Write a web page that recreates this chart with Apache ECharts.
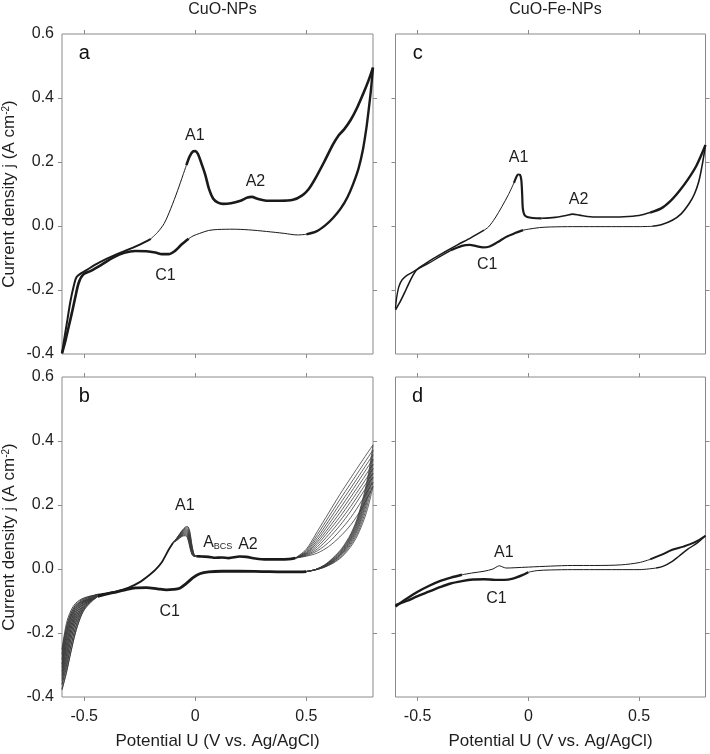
<!DOCTYPE html>
<html>
<head>
<meta charset="utf-8">
<script src="https://cdn.jsdelivr.net/npm/echarts@6/dist/echarts.min.js"></script>
<style>html,body{margin:0;padding:0;background:#fff;}#c{width:710px;height:754px;}</style>
</head>
<body>
<div id="c"></div>
<script>
// ---------- axes ----------
const xMin = -0.6, xMax = 0.8, yMin = -0.4, yMax = 0.6;
const xTickValues = [-0.5, 0, 0.5];
const yTickValues = [-0.2, 0, 0.2, 0.4];
const yLabelValues = [-0.4, -0.2, 0, 0.2, 0.4, 0.6];
const columnTitles = ['CuO-NPs', 'CuO-Fe-NPs'];
const panelLetters = ['a', 'c', 'b', 'd'];

// ---------- panel a (CuO-NPs, top) ----------
const aAnLow = [[-0.600,-0.398],[-0.588,-0.345],[-0.575,-0.290],[-0.562,-0.235],[-0.548,-0.190],[-0.535,-0.160],[-0.515,-0.148],[-0.490,-0.138],[-0.450,-0.121],[-0.400,-0.103],[-0.350,-0.087],[-0.300,-0.073],[-0.250,-0.058],[-0.200,-0.040]];
const aAnRise = [[-0.200,-0.040],[-0.170,-0.020],[-0.140,0.008],[-0.110,0.055],[-0.080,0.110],[-0.055,0.160],[-0.040,0.190]];
const aAnHigh = [[-0.040,0.190],[-0.025,0.218],[-0.010,0.233],[0.000,0.234],[0.012,0.225],[0.028,0.195],[0.045,0.160],[0.062,0.115],[0.080,0.086],[0.100,0.074],[0.125,0.069],[0.160,0.071],[0.200,0.078],[0.235,0.089],[0.255,0.091],[0.280,0.085],[0.320,0.079],[0.380,0.079],[0.440,0.082],[0.480,0.095],[0.510,0.115],[0.540,0.148],[0.580,0.200],[0.620,0.255],[0.645,0.283],[0.670,0.302],[0.700,0.332],[0.730,0.372],[0.760,0.420],[0.780,0.455],[0.800,0.495]];
const aCathHigh = [[0.800,0.495],[0.790,0.420],[0.780,0.360],[0.770,0.305],[0.755,0.240],[0.735,0.180],[0.710,0.130],[0.685,0.090],[0.655,0.055],[0.620,0.025],[0.585,0.002],[0.545,-0.017],[0.500,-0.026]];
const aCathMid = [[0.500,-0.026],[0.460,-0.028],[0.400,-0.023],[0.320,-0.017],[0.240,-0.012],[0.170,-0.010],[0.100,-0.011],[0.060,-0.014],[0.020,-0.023],[-0.010,-0.031],[-0.030,-0.040]];
const aCathLow = [[-0.030,-0.040],[-0.062,-0.058],[-0.090,-0.077],[-0.120,-0.088],[-0.150,-0.088],[-0.180,-0.083],[-0.220,-0.079],[-0.270,-0.078],[-0.320,-0.084],[-0.370,-0.099],[-0.420,-0.120],[-0.470,-0.140],[-0.505,-0.152],[-0.525,-0.178],[-0.540,-0.222],[-0.555,-0.270],[-0.570,-0.315],[-0.585,-0.360],[-0.600,-0.398]];
const aLabels = [[-0.002,0.281,'A1'],[0.271,0.138,'A2'],[-0.134,-0.156,'C1']];

// ---------- panel c (CuO-Fe-NPs, top) ----------
const cAnLow = [[-0.600,-0.262],[-0.580,-0.238],[-0.560,-0.210],[-0.540,-0.180],[-0.520,-0.153],[-0.505,-0.137],[-0.470,-0.120],[-0.430,-0.102],[-0.380,-0.082],[-0.320,-0.059],[-0.260,-0.037],[-0.200,-0.013]];
const cAnRise = [[-0.200,-0.013],[-0.180,-0.003],[-0.150,0.025],[-0.120,0.060],[-0.090,0.098],[-0.065,0.135]];
const cPeak = [[-0.065,0.135],[-0.055,0.152],[-0.047,0.161],[-0.038,0.160],[-0.032,0.145],[-0.028,0.100],[-0.025,0.055],[-0.018,0.035],[-0.005,0.028],[0.020,0.025],[0.060,0.024]];
const cAnFlat = [[0.060,0.024],[0.120,0.027],[0.170,0.033],[0.200,0.037],[0.230,0.034],[0.280,0.029],[0.350,0.028],[0.430,0.029],[0.500,0.033],[0.550,0.042]];
const cAnEnd = [[0.550,0.042],[0.600,0.055],[0.640,0.077],[0.680,0.108],[0.720,0.145],[0.760,0.190],[0.800,0.253]];
const cCathEnd = [[0.800,0.253],[0.785,0.190],[0.770,0.140],[0.750,0.100],[0.727,0.071],[0.690,0.038],[0.650,0.018],[0.600,0.004],[0.560,-0.001]];
const cCathFlat = [[0.560,-0.001],[0.500,-0.002],[0.400,-0.002],[0.300,-0.002],[0.200,-0.002],[0.100,-0.003],[0.050,-0.005],[0.000,-0.010],[-0.024,-0.013]];
const cCathC1 = [[-0.024,-0.013],[-0.060,-0.022],[-0.100,-0.034],[-0.140,-0.051],[-0.175,-0.064],[-0.205,-0.067],[-0.235,-0.063],[-0.265,-0.059],[-0.300,-0.062],[-0.350,-0.076]];
const cCathLow = [[-0.350,-0.076],[-0.400,-0.096],[-0.450,-0.116],[-0.505,-0.137],[-0.530,-0.147],[-0.550,-0.155],[-0.570,-0.168],[-0.585,-0.190],[-0.595,-0.225],[-0.600,-0.258]];
const cLabels = [[-0.044,0.215,'A1'],[0.227,0.084,'A2'],[-0.186,-0.122,'C1']];

// ---------- panel b (CuO-NPs, bottom, many cycles) ----------
const bLeftAnV = [-0.60,-0.58,-0.56,-0.54,-0.52,-0.50,-0.47,-0.44];
const bLeftAnJ = [
  [-0.250,-0.170,-0.130,-0.108,-0.097,-0.090,-0.084,-0.080],
  [-0.265,-0.185,-0.140,-0.113,-0.100,-0.092,-0.085,-0.080],
  [-0.280,-0.200,-0.150,-0.120,-0.104,-0.094,-0.086,-0.080],
  [-0.295,-0.215,-0.162,-0.127,-0.108,-0.097,-0.087,-0.080],
  [-0.305,-0.232,-0.175,-0.135,-0.113,-0.100,-0.088,-0.080],
  [-0.318,-0.248,-0.188,-0.144,-0.119,-0.104,-0.090,-0.080],
  [-0.330,-0.265,-0.203,-0.155,-0.126,-0.108,-0.092,-0.080],
  [-0.343,-0.282,-0.220,-0.168,-0.134,-0.113,-0.094,-0.080],
  [-0.358,-0.300,-0.240,-0.184,-0.144,-0.119,-0.097,-0.080],
  [-0.375,-0.320,-0.260,-0.200,-0.155,-0.125,-0.100,-0.080]
];
const bAnMid = [[-0.44,-0.080],[-0.40,-0.076],[-0.35,-0.069],[-0.30,-0.058],[-0.25,-0.041],[-0.20,-0.015],[-0.18,-0.003],[-0.15,0.022],[-0.12,0.060],[-0.10,0.082]];
const bPeakV = [-0.100,-0.080,-0.060,-0.045,-0.035,-0.025,-0.015,-0.005,0.005];
const bPeakJ = [
  [0.082,0.100,0.120,0.131,0.133,0.118,0.075,0.045,0.040],
  [0.082,0.099,0.118,0.128,0.129,0.112,0.070,0.044,0.040],
  [0.082,0.098,0.116,0.125,0.125,0.106,0.066,0.043,0.040],
  [0.082,0.097,0.114,0.122,0.121,0.100,0.062,0.042,0.040],
  [0.082,0.096,0.112,0.119,0.117,0.094,0.058,0.042,0.040],
  [0.082,0.095,0.110,0.116,0.113,0.089,0.055,0.041,0.040],
  [0.082,0.094,0.108,0.113,0.109,0.084,0.052,0.041,0.040],
  [0.082,0.093,0.106,0.110,0.105,0.079,0.049,0.040,0.040],
  [0.082,0.092,0.104,0.107,0.101,0.074,0.047,0.040,0.040],
  [0.082,0.091,0.102,0.104,0.097,0.069,0.045,0.040,0.040]
];
const bAnFlat = [[0.005,0.040],[0.030,0.039],[0.060,0.038],[0.090,0.035],[0.120,0.036],[0.150,0.034],[0.200,0.039],[0.230,0.038],[0.270,0.033],[0.320,0.030],[0.380,0.030],[0.420,0.031],[0.450,0.034]];
const bRiseV = [0.45,0.50,0.55,0.60,0.65,0.70,0.75,0.80];
const bRiseJ = [
  [0.034,0.062,0.118,0.175,0.232,0.285,0.337,0.388],
  [0.034,0.058,0.108,0.162,0.216,0.268,0.320,0.372],
  [0.034,0.055,0.099,0.150,0.202,0.253,0.305,0.357],
  [0.034,0.052,0.091,0.139,0.188,0.239,0.291,0.343],
  [0.034,0.050,0.084,0.128,0.175,0.225,0.276,0.328],
  [0.034,0.048,0.077,0.118,0.162,0.211,0.262,0.314],
  [0.034,0.046,0.070,0.107,0.149,0.196,0.248,0.300],
  [0.034,0.044,0.063,0.096,0.135,0.181,0.234,0.287],
  [0.034,0.042,0.057,0.083,0.119,0.161,0.214,0.272],
  [0.034,0.040,0.050,0.070,0.100,0.138,0.190,0.258]
];
const bFallV = [0.80,0.78,0.76,0.73,0.70,0.66,0.62,0.58,0.54,0.50];
const bFallJ = [
  [0.388,0.300,0.235,0.160,0.110,0.065,0.035,0.012,-0.002,-0.008],
  [0.372,0.290,0.227,0.155,0.106,0.062,0.033,0.011,-0.002,-0.008],
  [0.357,0.280,0.219,0.150,0.102,0.059,0.031,0.010,-0.002,-0.008],
  [0.343,0.270,0.211,0.144,0.098,0.056,0.029,0.010,-0.002,-0.008],
  [0.328,0.260,0.203,0.138,0.094,0.053,0.027,0.009,-0.002,-0.008],
  [0.314,0.250,0.195,0.132,0.090,0.050,0.025,0.008,-0.002,-0.008],
  [0.300,0.240,0.186,0.126,0.086,0.048,0.024,0.007,-0.002,-0.008],
  [0.287,0.229,0.177,0.120,0.081,0.045,0.022,0.006,-0.003,-0.008],
  [0.272,0.215,0.166,0.112,0.076,0.041,0.020,0.006,-0.003,-0.008],
  [0.258,0.200,0.155,0.105,0.070,0.038,0.018,0.005,-0.003,-0.008]
];
const bCathMid = [[0.50,-0.008],[0.45,-0.009],[0.40,-0.009],[0.30,-0.008],[0.20,-0.007],[0.12,-0.007],[0.06,-0.009],[0.02,-0.015],[-0.01,-0.027],[-0.04,-0.045],[-0.07,-0.060],[-0.10,-0.064],[-0.13,-0.065],[-0.17,-0.062],[-0.22,-0.058],[-0.27,-0.059],[-0.32,-0.066],[-0.37,-0.074],[-0.41,-0.080],[-0.44,-0.086]];
const bLeftCatV = [-0.44,-0.47,-0.50,-0.52,-0.54,-0.56,-0.58,-0.60];
const bLeftCatJ = [
  [-0.086,-0.092,-0.098,-0.104,-0.115,-0.138,-0.180,-0.255],
  [-0.086,-0.093,-0.100,-0.107,-0.120,-0.146,-0.193,-0.270],
  [-0.086,-0.094,-0.102,-0.111,-0.126,-0.155,-0.207,-0.285],
  [-0.086,-0.095,-0.104,-0.115,-0.133,-0.165,-0.222,-0.298],
  [-0.086,-0.096,-0.107,-0.120,-0.141,-0.177,-0.238,-0.310],
  [-0.086,-0.097,-0.110,-0.126,-0.150,-0.190,-0.255,-0.323],
  [-0.086,-0.098,-0.113,-0.132,-0.160,-0.205,-0.272,-0.336],
  [-0.086,-0.100,-0.117,-0.139,-0.172,-0.222,-0.290,-0.349],
  [-0.086,-0.102,-0.122,-0.148,-0.186,-0.240,-0.308,-0.362],
  [-0.086,-0.104,-0.128,-0.158,-0.200,-0.258,-0.325,-0.378]
];
const bLabels = [[-0.047,0.198,'A1'],[0.101,0.082,'ABCS'],[0.237,0.076,'A2'],[-0.115,-0.132,'C1']];

// ---------- panel d (CuO-Fe-NPs, bottom) ----------
const dAnLow = [[-0.600,-0.117],[-0.550,-0.093],[-0.500,-0.071],[-0.450,-0.053],[-0.400,-0.038],[-0.350,-0.027],[-0.300,-0.018]];
const dAnMid = [[-0.300,-0.018],[-0.250,-0.012],[-0.200,-0.007],[-0.160,0.000],[-0.140,0.008],[-0.130,0.010],[-0.115,0.006],[-0.100,0.003],[-0.060,0.004],[0.000,0.006],[0.100,0.009],[0.200,0.011],[0.300,0.011],[0.420,0.013],[0.500,0.020],[0.550,0.030]];
const dAnEnd = [[0.550,0.030],[0.600,0.044],[0.650,0.060],[0.700,0.070],[0.750,0.083],[0.800,0.104]];
const dCathEnd = [[0.800,0.104],[0.760,0.080],[0.720,0.062],[0.680,0.040],[0.650,0.024],[0.610,0.009],[0.577,0.003]];
const dCathFlat = [[0.577,0.003],[0.500,-0.002],[0.400,-0.002],[0.300,-0.002],[0.200,-0.002],[0.100,-0.003],[0.040,-0.005],[0.000,-0.010]];
const dCathLow = [[0.000,-0.010],[-0.030,-0.020],[-0.070,-0.030],[-0.110,-0.034],[-0.150,-0.034],[-0.200,-0.032],[-0.250,-0.033],[-0.300,-0.038],[-0.355,-0.046],[-0.400,-0.057],[-0.450,-0.071],[-0.500,-0.085],[-0.550,-0.100],[-0.600,-0.113]];
const dLabels = [[-0.111,0.052,'A1'],[-0.144,-0.091,'C1']];

const letterPos = [-0.50, 0.54];

// ---------- build ----------
const FONT = "'Liberation Sans', Arial, sans-serif";
const FRAME = '#8a8a8a';
const INK = '#1a1a1a';
const TXT = '#1e1e1e';
const grids = [
  {left: 62, top: 34, width: 311, height: 320},
  {left: 395.5, top: 34, width: 310, height: 320},
  {left: 62, top: 377, width: 311, height: 320},
  {left: 395.5, top: 377, width: 310, height: 320}
].map(g => Object.assign(g, {show: true, borderColor: FRAME, borderWidth: 1, backgroundColor: 'transparent'}));

const xAxes = [], yAxes = [];
grids.forEach((g, i) => {
  const bottomRow = i >= 2, leftCol = (i % 2) === 0;
  ['bottom', 'top'].forEach(pos => {
    xAxes.push({
      type: 'value', gridIndex: i, position: pos, min: xMin, max: xMax,
      axisLine: {show: false, onZero: false}, splitLine: {show: false},
      axisTick: {show: true, inside: false, length: 4, customValues: xTickValues, lineStyle: {color: FRAME}},
      axisLabel: {show: bottomRow && pos === 'bottom', customValues: xTickValues, margin: 12,
        fontSize: 16, fontFamily: FONT, color: TXT, formatter: v => (v === 0 ? '0' : String(v))},
      name: (bottomRow && pos === 'bottom') ? 'Potential U (V vs. Ag/AgCl)' : '',
      nameLocation: 'middle', nameGap: 36,
      nameTextStyle: {fontSize: 17, fontFamily: FONT, color: TXT}
    });
  });
  ['left', 'right'].forEach(pos => {
    yAxes.push({
      type: 'value', gridIndex: i, position: pos, min: yMin, max: yMax, interval: 0.2,
      axisLine: {show: false, onZero: false}, splitLine: {show: false},
      axisTick: {show: true, inside: false, length: 4, customValues: yTickValues, lineStyle: {color: FRAME}},
      axisLabel: {show: leftCol && pos === 'left', customValues: yLabelValues, margin: 8,
        fontSize: 16, fontFamily: FONT, color: TXT, formatter: v => v.toFixed(1)},
      name: (leftCol && pos === 'left') ? '{n|Current density j (A cm}{s|-2}{n|)}' : '',
      nameLocation: 'middle', nameGap: 44,
      nameTextStyle: {fontFamily: FONT, color: TXT, rich: {
        n: {fontSize: 17, fontFamily: FONT, color: TXT},
        s: {fontSize: 10, fontFamily: FONT, color: TXT, verticalAlign: 'top'}
      }}
    });
  });
});

const series = [];
function seg(gi, data, width, color) {
  series.push({type: 'line', xAxisIndex: gi * 2, yAxisIndex: gi * 2, data: data,
    showSymbol: false, symbol: 'none', smooth: 0.3, silent: true,
    lineStyle: {width: width, color: color || INK}, z: 3});
}
// panel a (grid 0)
seg(0, aAnLow, 2); seg(0, aAnRise, 1); seg(0, aAnHigh, 2.6);
seg(0, aCathHigh, 2.4); seg(0, aCathMid, 1); seg(0, aCathLow, 2.6);
// panel c (grid 1)
seg(1, cAnLow, 1.6); seg(1, cAnRise, 1); seg(1, cPeak, 2.2); seg(1, cAnFlat, 1.6);
seg(1, cAnEnd, 2.4); seg(1, cCathEnd, 1.6); seg(1, cCathFlat, 1); seg(1, cCathC1, 2.2); seg(1, cCathLow, 1.4);
// panel b (grid 2)
seg(2, bAnMid, 1.8); seg(2, bAnFlat, 2.6); seg(2, bCathMid, 2.8);
for (let i = 0; i < bRiseJ.length; i++) {
  const col = '#3a3a3a';
  seg(2, bLeftAnV.map((v, k) => [v, bLeftAnJ[i][k]]), 0.9, col);
  seg(2, bPeakV.map((v, k) => [v, bPeakJ[i][k]]), 0.9, col);
  seg(2, bRiseV.map((v, k) => [v, bRiseJ[i][k]]), 0.8, col);
  seg(2, bFallV.map((v, k) => [v, bFallJ[i][k]]), 0.8, col);
  seg(2, bLeftCatV.map((v, k) => [v, bLeftCatJ[i][k]]), 0.9, col);
}
// panel d (grid 3)
seg(3, dAnLow, 2.4); seg(3, dAnMid, 1); seg(3, dAnEnd, 2);
seg(3, dCathEnd, 1.4); seg(3, dCathFlat, 1); seg(3, dCathLow, 2.4);

// annotations (peak labels and panel letters), placed in data coordinates
const labelSets = [aLabels, cLabels, bLabels, dLabels];
labelSets.forEach((set, gi) => {
  const data = set.map(p => ({value: [p[0], p[1]], name: p[2]}));
  data.push({value: letterPos, name: 'LETTER_' + panelLetters[gi]});
  series.push({type: 'scatter', xAxisIndex: gi * 2, yAxisIndex: gi * 2, symbolSize: 1,
    itemStyle: {color: 'rgba(0,0,0,0)', opacity: 1}, silent: true, z: 5, data: data,
    label: {show: true, position: 'inside', opacity: 1, fontFamily: FONT, color: TXT, fontSize: 16,
      textBorderWidth: 0, textShadowBlur: 0,
      formatter: p => {
        if (p.name === 'ABCS') return '{m|A}{s|BCS}';
        if (p.name.indexOf('LETTER_') === 0) return '{L|' + p.name.slice(7) + '}';
        return '{m|' + p.name + '}';
      },
      rich: {
        m: {fontSize: 16, fontFamily: FONT, color: TXT, textBorderWidth: 0},
        s: {fontSize: 9, fontFamily: FONT, color: TXT, verticalAlign: 'bottom', textBorderWidth: 0},
        L: {fontSize: 20, fontFamily: FONT, color: '#111', textBorderWidth: 0}
      }}
  });
});

const chart = echarts.init(document.getElementById('c'), null, {renderer: 'canvas'});
chart.setOption({
  animation: false,
  backgroundColor: '#fff',
  title: [
    {text: columnTitles[0], left: 217.5, top: -3, textAlign: 'center', textStyle: {fontSize: 16, fontWeight: 'normal', fontFamily: FONT, color: TXT}},
    {text: columnTitles[1], left: 550.5, top: -3, textAlign: 'center', textStyle: {fontSize: 16, fontWeight: 'normal', fontFamily: FONT, color: TXT}}
  ],
  grid: grids,
  xAxis: xAxes,
  yAxis: yAxes,
  series: series
});
</script>
</body>
</html>
